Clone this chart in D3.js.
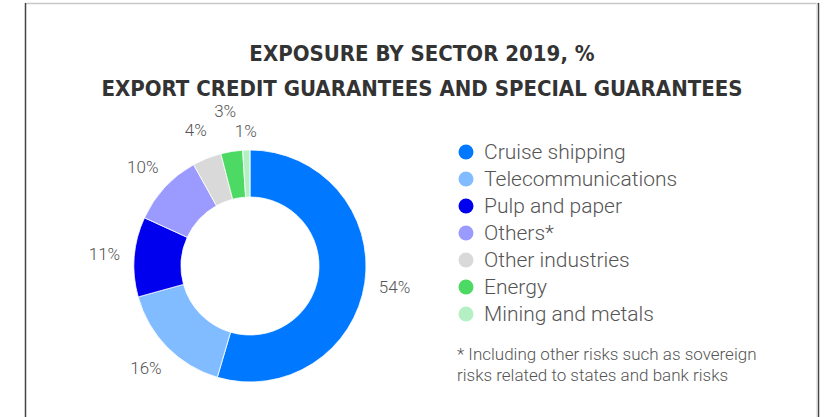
<!DOCTYPE html>
<html><head><meta charset="utf-8">
<script src="https://cdn.jsdelivr.net/npm/d3@7"></script>
<style>body{margin:0;background:#fff;}svg{display:block;}</style>
</head><body>
<script>
const categories = ["Cruise shipping","Telecommunications","Pulp and paper","Others*","Other industries","Energy","Mining and metals"];
const values = [54,16,11,10,4,3,1];
const labels = ["54%","16%","11%","10%","4%","3%","1%"];
const colors = ["#0078ff","#80bcff","#0000ee","#9b9bff","#d9d9d9","#4cd964","#b5efc4"];
const titleLines = ["EXPOSURE BY SECTOR 2019, %","EXPORT CREDIT GUARANTEES AND SPECIAL GUARANTEES"];
const footnote = ["* Including other risks such as sovereign","risks related to states and bank risks"];

const W=832,H=417;
const svg=d3.select("body").append("svg").attr("width",W).attr("height",H);
svg.append("rect").attr("x",0).attr("y",0).attr("width",W).attr("height",H).attr("fill","#fff");
// frame
svg.append("line").attr("x1",25).attr("x2",819).attr("y1",3.5).attr("y2",3.5).attr("stroke","#c8c8c8").attr("stroke-width",1.5);
svg.append("line").attr("x1",25.5).attr("x2",25.5).attr("y1",3).attr("y2",H).attr("stroke","#444").attr("stroke-width",1.5);
svg.append("line").attr("x1",818.5).attr("x2",818.5).attr("y1",3).attr("y2",H).attr("stroke","#444").attr("stroke-width",1.5);
svg.append("line").attr("x1",816.5).attr("x2",816.5).attr("y1",3).attr("y2",H).attr("stroke","#e6e6e6").attr("stroke-width",1);

svg.selectAll("text.title").data(titleLines).join("text").attr("class","title")
  .attr("x",422).attr("y",(d,i)=>61+i*35).attr("text-anchor","middle")
  .attr("font-family","'DejaVu Sans Condensed','DejaVu Sans',sans-serif").attr("font-weight","bold")
  .attr("font-size",22).attr("fill","#333").text(d=>d);

const cx=250,cy=266,R=116,r=69,LR=146;
const pie=d3.pie().sort(null).value(d=>d)(values);
const arc=d3.arc().innerRadius(r).outerRadius(R);
const g=svg.append("g").attr("transform",`translate(${cx},${cy})`);
g.selectAll("path").data(pie).join("path").attr("d",arc).attr("fill",(d,i)=>colors[i]).attr("stroke","#fff").attr("stroke-width",0.8);

// label layout: radial placement with simple overlap resolution
const lab=pie.map(d=>({a:(d.startAngle+d.endAngle)/2, r:LR}));
const pos=l=>[Math.sin(l.a)*l.r,-Math.cos(l.a)*l.r];
for(let i=lab.length-2;i>=0;i--){
  const p=pos(lab[i]), q=pos(lab[i+1]);
  if(Math.abs(p[0]-q[0])<28 && Math.abs(p[1]-q[1])<20){
    lab[i].r+=11; lab[i+1].r-=11;
  }
}
g.selectAll("text").data(lab).join("text")
  .attr("transform",d=>{const c=pos(d);return `translate(${c[0]},${c[1]})`;})
  .attr("text-anchor","middle").attr("dy","0.35em")
  .attr("font-family","Roboto,sans-serif").attr("font-weight",300).attr("font-size",17).attr("fill","#555")
  .text((d,i)=>labels[i]);

const leg=svg.append("g");
const rowY=d3.scaleLinear().domain([0,6]).range([152,314]);
categories.forEach((c,i)=>{
  leg.append("circle").attr("cx",466).attr("cy",rowY(i)).attr("r",7.5).attr("fill",colors[i]);
  leg.append("text").attr("x",484).attr("y",rowY(i)).attr("dy","0.35em")
    .attr("font-family","Roboto,sans-serif").attr("font-weight",300).attr("font-size",21).attr("fill","#555").text(c);
});
svg.selectAll("text.fn").data(footnote).join("text").attr("class","fn")
  .attr("x",457).attr("y",(d,i)=>360+i*21)
  .attr("font-family","Roboto,sans-serif").attr("font-weight",300).attr("font-size",17).attr("fill","#555").text(d=>d);
</script>
</body></html>
